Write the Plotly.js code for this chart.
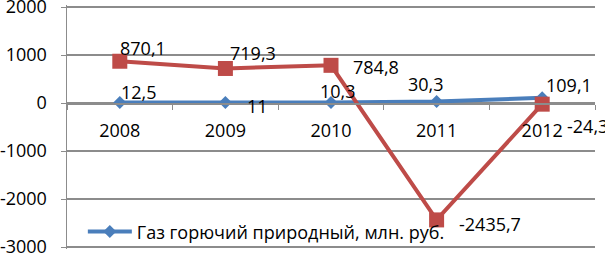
<!DOCTYPE html>
<html>
<head>
<meta charset="utf-8">
<script src="https://cdn.plot.ly/plotly-3.0.1.min.js"></script>
<style>
html,body{margin:0;padding:0;background:#fff;}
#chart{width:605px;height:256px;}
</style>
</head>
<body>
<div id="chart"></div>
<script>
// ---- data ----
const years = ["2008", "2009", "2010", "2011", "2012"];
const gasValues = [12.5, 11, 10.3, 30.3, 109.1];
const otherValues = [870.1, 719.3, 784.8, -2435.7, -24.3];
const gasLabels = ["12,5", "11", "10,3", "30,3", "109,1"];
const otherLabels = ["870,1", "719,3", "784,8", "-2435,7", "-24,3"];
const gasName = "Газ горючий природный, млн. руб.";
const yTicks = [-3000, -2000, -1000, 0, 1000, 2000];

// ---- label offsets (styling, px) ----
const gasShift = [[0, 10], [21, -4], [-12, 12], [-30, 18], [3, 13]];
const otherShift = [[-1, 13], [4, 15], [21, -2], [21, -4], [24, -22]];

const FONT = "Open Sans, Noto Sans, sans-serif";
const BLUE = "#4a7ebb";
const RED = "#be4b48";
const GRID = "#8c8c8c";

const traces = [
  {
    type: "scatter", mode: "lines+markers", name: gasName,
    x: years, y: gasValues,
    line: {color: BLUE, width: 4},
    marker: {symbol: "diamond", size: 10, color: BLUE, line: {width: 0}},
    showlegend: true
  },
  {
    type: "scatter", mode: "lines+markers", name: "",
    x: years, y: otherValues,
    line: {color: RED, width: 4},
    marker: {symbol: "square", size: 15, color: RED, line: {width: 0}},
    showlegend: false
  }
];

const annotations = [];
years.forEach((yr, i) => {
  annotations.push({
    x: i, y: gasValues[i], xref: "x", yref: "y", text: gasLabels[i],
    showarrow: false, xanchor: "left", yanchor: "middle",
    xshift: gasShift[i][0], yshift: gasShift[i][1],
    font: {family: FONT, size: 18, color: "#000"}, borderpad: 0
  });
  annotations.push({
    x: i, y: otherValues[i], xref: "x", yref: "y", text: otherLabels[i],
    showarrow: false, xanchor: "left", yanchor: "middle",
    xshift: otherShift[i][0], yshift: otherShift[i][1],
    font: {family: FONT, size: 18, color: "#000"}, borderpad: 0
  });
});

// 48 px per 1000, plot area padded by 2px so edge gridlines are kept
const pad = 2000 / 48;

const layout = {
  width: 605, height: 256,
  margin: {l: 67, r: 10, t: 5, b: 7, pad: 0},
  paper_bgcolor: "#fff", plot_bgcolor: "#fff",
  font: {family: FONT, size: 18, color: "#000"},
  showlegend: true,
  legend: {
    x: 0.03, y: 0.07, xanchor: "left", yanchor: "middle",
    bgcolor: "rgba(0,0,0,0)", borderwidth: 0,
    font: {family: FONT, size: 18, color: "#000"},
    itemwidth: 44
  },
  xaxis: {
    type: "category", range: [-0.5, 4.5],
    anchor: "free", position: (pad + 3000) / (5000 + 2 * pad),
    showline: true, linecolor: GRID, linewidth: 1.5,
    ticks: "outside", tickson: "boundaries", ticklen: 5, tickcolor: GRID, tickwidth: 1,
    showgrid: false, zeroline: false,
    tickfont: {family: FONT, size: 18, color: "#000"},
    ticklabelstandoff: 11
  },
  yaxis: {
    range: [-3000 - pad, 2000 + pad], tickvals: yTicks,
    ticktext: yTicks.map(String),
    showgrid: true, gridcolor: GRID, gridwidth: 1.5,
    zeroline: false,
    showline: true, linecolor: GRID, linewidth: 1.5,
    ticks: "outside", ticklen: 5, tickcolor: GRID, tickwidth: 1,
    tickfont: {family: FONT, size: 18, color: "#000"},
    ticklabelstandoff: 10,
    ticklabeloverflow: "allow"
  },
  annotations: annotations
};

Plotly.newPlot("chart", traces, layout, {staticPlot: true, displayModeBar: false});
</script>
</body>
</html>
